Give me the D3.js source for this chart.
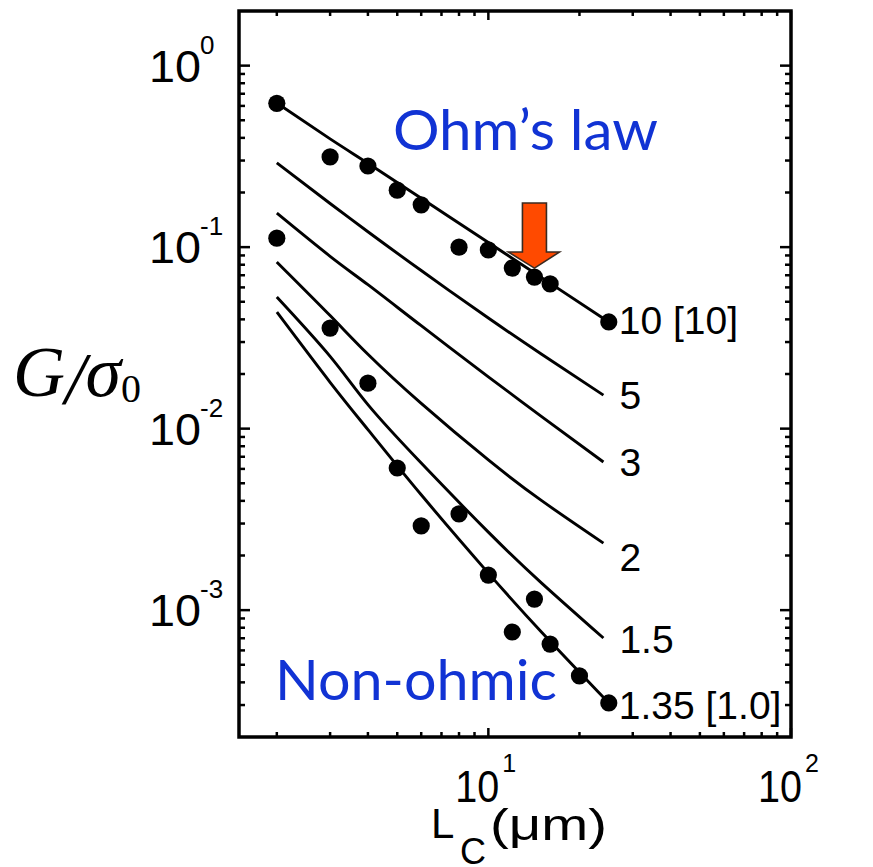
<!DOCTYPE html>
<html><head><meta charset="utf-8">
<script src="https://cdn.jsdelivr.net/npm/d3@7"></script>
<style>body{margin:0;background:#fff}</style>
</head><body><svg id="c" width="873" height="867"></svg>
<script>
// ---- data ----
const fitX    = [2, 3, 4, 6, 10, 15, 24];
const fitXEnd = [2, 3, 4, 6, 10, 15, 25];
const fit10  = [0.622, 0.395, 0.290, 0.186, 0.106, 0.0679, 0.0387];
const fit5   = [0.291, 0.174, 0.1216, 0.0743, 0.0407, 0.0257, 0.0153];
const fit3   = [0.154, 0.0890, 0.0621, 0.0369, 0.0193, 0.01165, 0.00655];
const fit2   = [0.0828, 0.0420, 0.0257, 0.01377, 0.00672, 0.00401, 0.00234];
const fit15  = [0.0531, 0.0250, 0.01355, 0.00646, 0.00269, 0.00141, 0.000702];
const fit135 = [0.0439, 0.0180, 0.00988, 0.00432, 0.00160, 0.000756, 0.000308];
const fitLabels = ["10 [10]", "5", "3", "2", "1.5", "1.35 [1.0]"];

const ohmX = [2, 3, 4, 5, 6, 8, 10, 12, 14.2, 16, 25];
const ohmG = [0.62, 0.314, 0.28, 0.206, 0.171, 0.100, 0.0965, 0.0767, 0.0684, 0.0627, 0.0387];
const nonX = [2, 3, 4, 5, 6, 8, 10, 12, 14.2, 16, 20, 25];
const nonG = [0.112, 0.0358, 0.0178, 0.00607, 0.00291, 0.00339, 0.00156, 0.000758, 0.00115, 0.00065, 0.000434, 0.000308];

const xMajor = [10, 100];
const yMajor = [1, 0.1, 0.01, 0.001];
const yExp = ["0", "-1", "-2", "-3"];
const xExp = ["1", "2"];
const arrowTip = {x: 14.2, g: 0.0684};

// ---- layout ----
const svg = d3.select("#c");
const L = 239, R = 791, T = 11, B = 737;
const x = d3.scaleLog().domain([1.5, 100]).range([L, R]);
const y = d3.scaleLog().domain([2e-4, 2]).range([B, T]);

// ticks
const yMinor = [];
for (let e = -4; e <= 0; e++) for (let m = 2; m <= 9; m++) {
  const v = m * Math.pow(10, e);
  if (v > 2e-4 * 1.001 && v < 2 * 0.999) yMinor.push(v);
}
const xMinor = [];
for (let e = 0; e <= 1; e++) for (let m = 2; m <= 9; m++) {
  const v = m * Math.pow(10, e);
  if (v > 1.5 && v < 100) xMinor.push(v);
}
const tk = svg.append("g").attr("stroke", "#000").attr("stroke-width", 2.5);
yMinor.forEach(v => {
  tk.append("line").attr("x1", L).attr("x2", L + 6).attr("y1", y(v)).attr("y2", y(v));
  tk.append("line").attr("x1", R).attr("x2", R - 6).attr("y1", y(v)).attr("y2", y(v));
});
yMajor.forEach(v => {
  tk.append("line").attr("x1", L).attr("x2", L + 11).attr("y1", y(v)).attr("y2", y(v));
  tk.append("line").attr("x1", R).attr("x2", R - 11).attr("y1", y(v)).attr("y2", y(v));
});
xMinor.forEach(v => {
  tk.append("line").attr("x1", x(v)).attr("x2", x(v)).attr("y1", B).attr("y2", B - 5);
  tk.append("line").attr("x1", x(v)).attr("x2", x(v)).attr("y1", T).attr("y2", T + 5);
});
xMajor.forEach(v => {
  tk.append("line").attr("x1", x(v)).attr("x2", x(v)).attr("y1", B).attr("y2", B - 9);
  tk.append("line").attr("x1", x(v)).attr("x2", x(v)).attr("y1", T).attr("y2", T + 9);
});

// frame
svg.append("rect").attr("x", L).attr("y", T).attr("width", R - L).attr("height", B - T)
  .attr("fill", "none").attr("stroke", "#000").attr("stroke-width", 3.5);

// tick labels
const font = "'Liberation Sans', Arial, sans-serif";
yMajor.forEach((v, i) => {
  svg.append("text").attr("x", 149).attr("y", y(v) + 16).attr("font-family", font)
    .attr("font-size", 45).attr("textLength", 52).attr("lengthAdjust", "spacingAndGlyphs").text("10");
  svg.append("text").attr("x", 200).attr("y", y(v) - 12).attr("font-family", font)
    .attr("font-size", 26).text(yExp[i]);
});
xMajor.forEach((v, i) => {
  svg.append("text").attr("x", x(v) + 11).attr("y", 802).attr("text-anchor", "end").attr("font-family", font)
    .attr("font-size", 44).attr("textLength", 44).attr("lengthAdjust", "spacingAndGlyphs").text("10");
  svg.append("text").attr("x", x(v) + 14).attr("y", 772).attr("font-family", font)
    .attr("font-size", 25).text(xExp[i]);
});

// axis titles
svg.append("text").attr("x", 431).attr("y", 838).attr("font-family", font).attr("font-size", 42).text("L");
svg.append("text").attr("x", 460).attr("y", 864).attr("font-family", font).attr("font-size", 36).text("C");
svg.append("text").attr("x", 490).attr("y", 840).attr("font-family", font).attr("font-size", 44)
  .attr("textLength", 117).attr("lengthAdjust", "spacingAndGlyphs").text("(\u03bcm)");

const yt = svg.append("text").attr("x", 13).attr("y", 396)
  .attr("font-family", "'Liberation Serif', 'Times New Roman', serif").attr("font-size", 72).attr("font-style", "italic");
yt.append("tspan").text("G");
yt.append("tspan").attr("font-size", 74).attr("dy", 8).text("/");
yt.append("tspan").attr("dy", -8).text("\u03c3");
yt.append("tspan").attr("font-style", "normal").attr("font-size", 40).attr("dy", 6).text("0");

// fit lines
const fits = [[fitXEnd, fit10], [fitX, fit5], [fitX, fit3], [fitX, fit2], [fitX, fit15], [fitXEnd, fit135]];
const line = d3.line().x(d => x(d[0])).y(d => y(d[1])).curve(d3.curveNatural);
const labelDy = [12, 14, 14, 28, 15, 16];
fits.forEach((f, i) => {
  const pts = f[0].map((xv, j) => [xv, f[1][j]]);
  svg.append("path").attr("d", line(pts)).attr("fill", "none").attr("stroke", "#000").attr("stroke-width", 2.9);
  const last = pts[pts.length - 1];
  svg.append("text").attr("x", x(last[0]) + (i === 0 || i === 5 ? 10 : 16)).attr("y", y(last[1]) + labelDy[i])
    .attr("font-family", font).attr("font-size", 39).text(fitLabels[i]);
});

// dots
[[ohmX, ohmG], [nonX, nonG]].forEach(s => {
  svg.append("g").selectAll("circle").data(s[0].map((xv, j) => [xv, s[1][j]])).join("circle")
    .attr("cx", d => x(d[0])).attr("cy", d => y(d[1])).attr("r", 8.6).attr("fill", "#000");
});

// arrow
const ax = x(arrowTip.x), ay = y(arrowTip.g) - 9;
const ap = [[ax - 12, ay - 65], [ax + 12, ay - 65], [ax + 12, ay - 16], [ax + 25, ay - 16], [ax, ay],
            [ax - 26, ay - 16], [ax - 12, ay - 16]];
svg.append("path").attr("d", "M" + ap.map(p => p.join(",")).join("L") + "Z")
  .attr("fill", "#ff4a00").attr("stroke", "#3a2a20").attr("stroke-width", 1.6);

// annotations
const blue = "#1133d4";
const ann = [["Ohm\u2019s law", 393, 150, 265], ["Non-ohmic", 275, 700, 282]];
ann.forEach(a => {
  svg.append("text").attr("x", a[1]).attr("y", a[2]).attr("font-family", "Lato, 'Open Sans', sans-serif")
    .attr("font-size", 56).attr("fill", blue).attr("textLength", a[3]).attr("lengthAdjust", "spacingAndGlyphs").text(a[0]);
});
</script></body></html>
